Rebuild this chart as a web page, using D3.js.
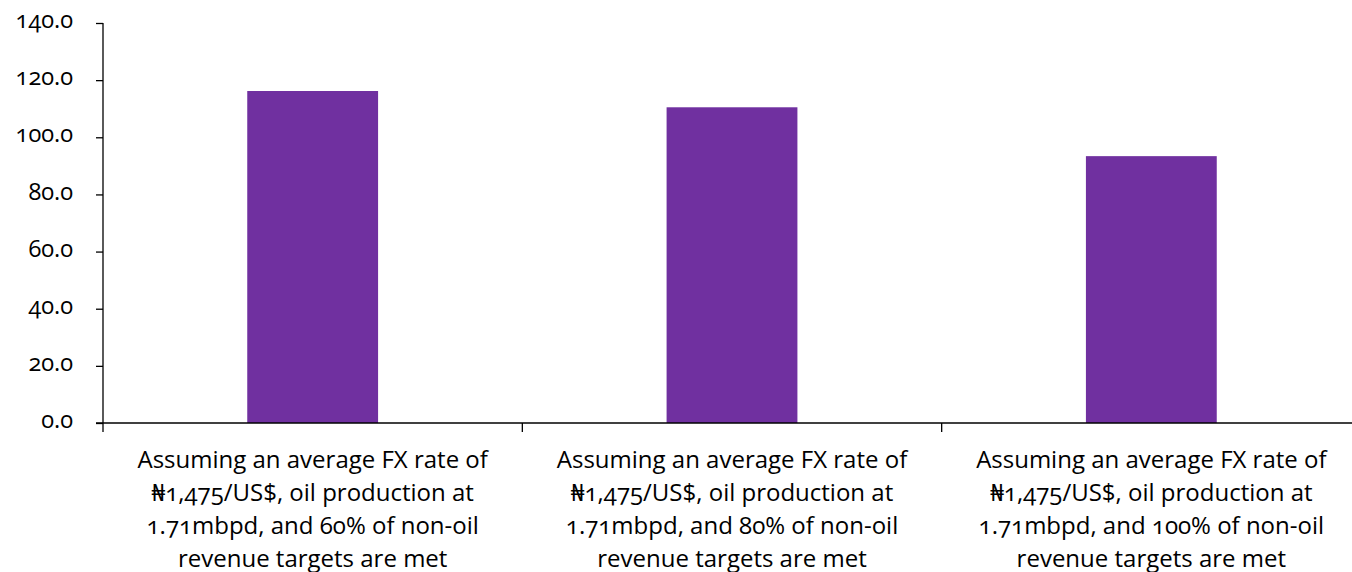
<!DOCTYPE html>
<html>
<head>
<meta charset="utf-8">
<script src="https://cdn.jsdelivr.net/npm/d3@7"></script>
<style>
  html, body { margin: 0; padding: 0; background: #fff; }
  svg text { font-family: "Open Sans", "Noto Sans", sans-serif; font-feature-settings: "onum" 1; font-variant-numeric: oldstyle-nums; fill: #000; }
</style>
</head>
<body>
<svg id="chart" width="1352" height="572"></svg>
<script>
// Scenario labels, one per bar (each split over four lines)
const categories = [
  ["Assuming an average FX rate of", "\u20A61,475/US$, oil production at", "1.71mbpd, and 60% of non-oil", "revenue targets are met"],
  ["Assuming an average FX rate of", "\u20A61,475/US$, oil production at", "1.71mbpd, and 80% of non-oil", "revenue targets are met"],
  ["Assuming an average FX rate of", "\u20A61,475/US$, oil production at", "1.71mbpd, and 100% of non-oil", "revenue targets are met"]
];
const values = [116.2, 110.5, 93.4];
const yTicks = [0, 20, 40, 60, 80, 100, 120, 140];

const svg = d3.select("#chart");
const plotLeft = 103, plotRight = 1361, plotTop = 23, plotBottom = 423;

const x = d3.scaleBand().domain(d3.range(categories.length)).range([plotLeft, plotRight]).padding(0);
const y = d3.scaleLinear().domain([0, 140]).range([plotBottom, plotTop]);
const barW = x.bandwidth() * 0.312;

// bars
svg.append("g").selectAll("rect").data(values).join("rect")
  .attr("x", (d, i) => x(i) + x.bandwidth() / 2 - barW / 2)
  .attr("y", d => y(d))
  .attr("width", barW)
  .attr("height", d => y(0) - y(d))
  .attr("fill", "#7030A0");

// y axis
const yAxis = d3.axisLeft(y).tickValues(yTicks).tickFormat(d3.format(".1f")).tickSize(7).tickPadding(23);
const gy = svg.append("g").attr("transform", `translate(${plotLeft},0)`).call(yAxis);
gy.select(".domain").remove();
gy.selectAll(".tick line").attr("stroke", "#000").attr("stroke-width", 1.3);
gy.selectAll(".tick text").style("font-size", "23.5px").attr("dy", "0.2em");
svg.append("line").attr("x1", plotLeft).attr("x2", plotLeft).attr("y1", plotTop).attr("y2", plotBottom + 9)
  .attr("stroke", "#000").attr("stroke-width", 1.3);

// x axis baseline and category separators
svg.append("line").attr("x1", plotLeft - 7).attr("x2", 1352).attr("y1", plotBottom).attr("y2", plotBottom)
  .attr("stroke", "#000").attr("stroke-width", 1.3);
svg.append("g").selectAll("line").data(d3.range(1, categories.length)).join("line")
  .attr("x1", i => x(i)).attr("x2", i => x(i))
  .attr("y1", plotBottom).attr("y2", plotBottom + 9)
  .attr("stroke", "#000").attr("stroke-width", 1.3);

// category labels
const lab = svg.append("g").selectAll("text").data(categories).join("text")
  .attr("text-anchor", "middle")
  .attr("transform", (d, i) => `translate(${x(i) + x.bandwidth() / 2},468)`)
  .style("font-size", "24px");
lab.selectAll("tspan").data(d => d).join("tspan")
  .attr("x", 0).attr("y", (d, j) => j * 33)
  .text(d => d);
</script>
</body>
</html>
